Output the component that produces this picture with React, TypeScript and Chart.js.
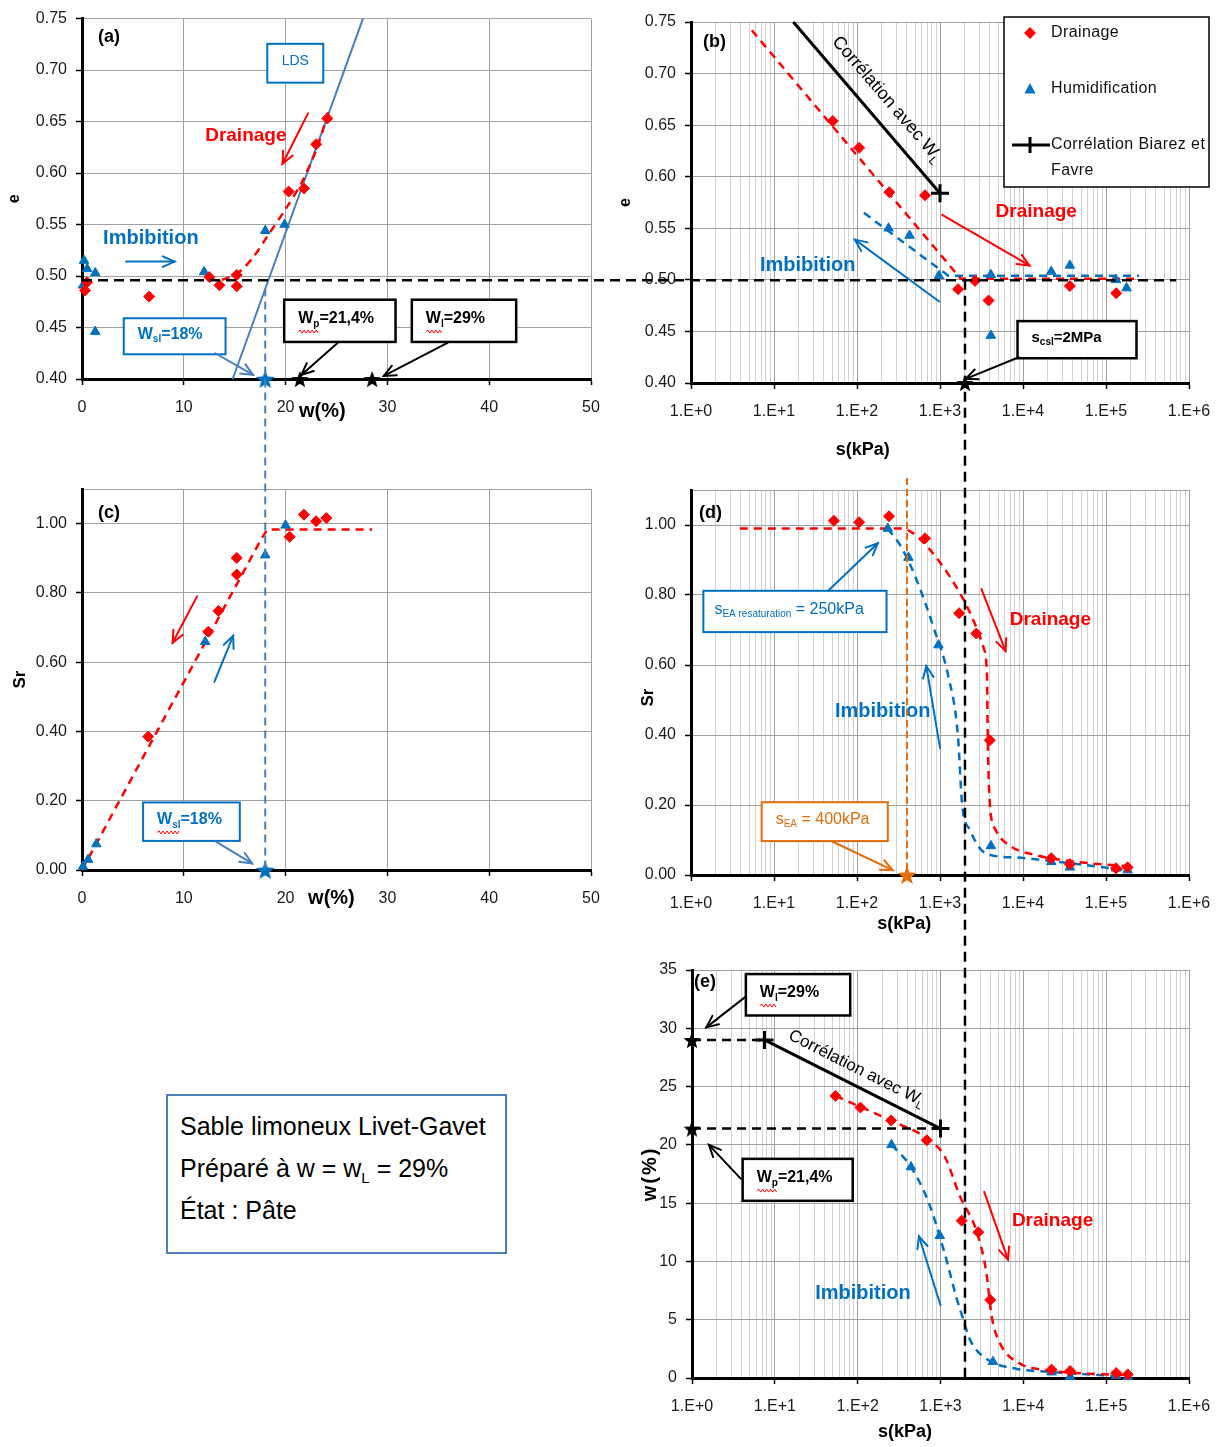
import { useEffect, useRef } from 'react';
import { Chart, registerables } from 'chart.js';
Chart.register(...registerables);

// ---------------- data ----------------
// Panel (a): e vs w
const A_DRAIN_W = [0.3, 0.5, 6.6, 12.5, 13.5, 15.2, 15.2, 20.3, 21.8, 23.0, 24.1];
const A_DRAIN_E = [0.486, 0.494, 0.480, 0.499, 0.491, 0.501, 0.490, 0.582, 0.585, 0.628, 0.653];
const A_IMB_W = [0.2, 0.5, 0.1, 1.3, 1.3, 12.0, 18.0, 19.9];
const A_IMB_E = [0.515, 0.507, 0.491, 0.503, 0.446, 0.504, 0.544, 0.550];
const A_FIT_W = [12.4, 13.5, 15.3, 16.8, 18.3, 20.0, 21.7, 23.1, 24.2];
const A_FIT_E = [0.498, 0.496, 0.503, 0.518, 0.540, 0.565, 0.593, 0.625, 0.659];
const LDS_W = [14.8, 27.6];
const LDS_E = [0.40, 0.75];
const W_SL = 18;
const W_P = 21.4;
const W_L_STAR = 28.5;
const E_AXIS = 0.40;

// Panel (b): e vs s
const B_DRAIN_S = [51, 106, 245, 660, 1650, 2640, 3850, 36700, 133000];
const B_DRAIN_E = [0.654, 0.628, 0.585, 0.582, 0.491, 0.499, 0.480, 0.494, 0.487];
const B_IMB_S = [240, 430, 970, 4100, 4100, 21900, 36700, 132000, 177000];
const B_IMB_E = [0.550, 0.543, 0.504, 0.505, 0.446, 0.508, 0.514, 0.500, 0.492];
const B_DFIT_S = [5.4, 1780, 250000];
const B_DFIT_E = [0.742, 0.501, 0.501];
const B_IFIT_S = [121, 1260, 250000];
const B_IFIT_E = [0.565, 0.504, 0.504];
const B_CORR_S = [17.1, 1000];
const B_CORR_E = [0.75, 0.584];
const S_CSL = 2000;

// Panel (c): Sr vs w
const C_DRAIN_W = [6.5, 12.4, 13.4, 15.2, 15.2, 20.4, 21.8, 23.0, 24.0];
const C_DRAIN_SR = [0.385, 0.688, 0.748, 0.853, 0.901, 0.962, 1.026, 1.007, 1.016];
const C_IMB_W = [0.1, 0.6, 1.4, 12.1, 18.0, 20.0];
const C_IMB_SR = [0.01, 0.03, 0.075, 0.659, 0.909, 0.995];
const C_FIT_W = [0, 17.6, 18.2, 28.5];
const C_FIT_SR = [0, 0.955, 0.983, 0.983];

// Panel (d): Sr vs s
const D_DRAIN_S = [52.6, 106, 243, 661, 1700, 2735, 3980, 21900, 36700, 132000, 182000];
const D_DRAIN_SR = [1.012, 1.008, 1.025, 0.962, 0.748, 0.690, 0.385, 0.048, 0.031, 0.019, 0.022];
const D_IMB_S = [235, 417, 958, 4110, 21900, 36700, 132000, 182000];
const D_IMB_SR = [0.990, 0.907, 0.657, 0.083, 0.038, 0.022, 0.019, 0.014];
const D_DFIT_S = [3.87, 353, 519, 1000, 1905, 2692, 3388, 3681, 3758, 3981, 4677, 7244, 14125, 42658, 199526];
const D_DFIT_SR = [0.99, 0.99, 0.969, 0.893, 0.788, 0.712, 0.645, 0.568, 0.396, 0.205, 0.129, 0.081, 0.057, 0.038, 0.024];
const D_IFIT_S = [234, 334, 519, 851, 1259, 1648, 1841, 2291, 3548, 8128, 21878, 177828];
const D_IFIT_SR = [0.99, 0.941, 0.845, 0.702, 0.568, 0.396, 0.205, 0.129, 0.062, 0.050, 0.040, 0.014];
const S_EA = 400;

// Panel (e): w vs s
const E_DRAIN_S = [54, 108, 254, 684, 1800, 2860, 3980, 21900, 36700, 132000, 182000];
const E_DRAIN_W = [24.2, 23.2, 22.1, 20.4, 13.5, 12.5, 6.7, 0.72, 0.6, 0.43, 0.31];
const E_IMB_S = [256, 440, 980, 4300, 21900, 36700, 132000, 182000];
const E_IMB_W = [20.0, 18.1, 12.2, 1.4, 0.5, 0.1, 0.2, 0.1];
const E_DFIT_S = [54.3, 253.5, 684, 1122, 1738, 2692, 3548, 4169, 5248, 9120, 19498, 42658, 199526];
const E_DFIT_W = [24.2, 22.07, 20.55, 19.0, 15.5, 12.7, 9.2, 5.2, 2.95, 1.23, 0.66, 0.43, 0.23];
const E_IFIT_S = [257, 440, 724, 1122, 1549, 1841, 2291, 3548, 8128, 21878, 199526];
const E_IFIT_W = [20.0, 18.1, 15.0, 10.7, 6.96, 5.24, 3.23, 1.66, 0.8, 0.52, 0.09];
const E_CORR_S = [7.5, 1000];
const E_CORR_W = [29.0, 21.4];
const E_WL_S = [1, 7.5];
const E_WL_W = [29.0, 29.0];
const E_WP_S = [1, 1000];
const E_WP_W = [21.4, 21.4];

// connector lines between panels
const H_LINE_E = 0.496;
const H_LINE_END_S = 7e5;
const V_LINE_TOP_E = 0.488;
const V_LINE_S_TOP_E = 0.50;

// ticks
const W_TICKS = [0, 10, 20, 30, 40, 50];
const E_TICKS = [0.40, 0.45, 0.50, 0.55, 0.60, 0.65, 0.70, 0.75];
const SR_TICKS = [0, 0.2, 0.4, 0.6, 0.8, 1.0, 1.1];
const WE_TICKS = [0, 5, 10, 15, 20, 25, 30, 35];
const DECADES = [1, 10, 100, 1e3, 1e4, 1e5, 1e6];
const DECADE_LABELS = ['1.E+0', '1.E+1', '1.E+2', '1.E+3', '1.E+4', '1.E+5', '1.E+6'];
const MINOR_STEPS = [2, 3, 4, 5, 6, 7, 8, 9];
const LOG_TICKS = DECADES.flatMap((d, i) => (i < DECADES.length - 1 ? [d, ...MINOR_STEPS.map((m) => m * d)] : [d]));

// ---------------- styles ----------------
const FONT = "'Liberation Sans', Arial, Helvetica, sans-serif";
const RED = '#FF0000';
const BLUE = '#0070C0';
const LBLUE = '#4A7EBB';
const ORANGE = '#E46C0A';
const GRID = '#A0A0A0';
const GRID_MINOR = '#D2D2D2';
const TICK_COLOR = '#1a1a1a';
const fnt = (size: number, bold: boolean) => `${bold ? 'bold ' : ''}${size}px ${FONT}`;

const PANELS: any = {
  a: { left: 0, top: 0, w: 614, h: 440, padTop: 17, padRight: 23, yW: 82, xH: 61 },
  b: { left: 600, top: 0, w: 625, h: 470, padTop: 22, padRight: 36, yW: 91, xH: 87 },
  c: { left: 0, top: 470, w: 614, h: 460, padTop: 19, padRight: 23, yW: 82, xH: 60 },
  d: { left: 600, top: 470, w: 625, h: 480, padTop: 20, padRight: 36, yW: 91, xH: 75 },
  e: { left: 600, top: 945, w: 625, h: 502, padTop: 25, padRight: 36, yW: 92, xH: 69 },
};

// ---------------- annotations ----------------
const W_SL_SEGS = [['W'], ['sl', true], ['=18%']];
const W_P_SEGS = [['W'], ['p', true], ['=21,4%']];
const W_L_SEGS = [['W'], ['l', true], ['=29%']];

const A_NOTES = [
  { kind: 'box', x1: 18.2, y1: 0.7255, x2: 23.7, y2: 0.6878, segs: [['LDS']], border: BLUE, color: BLUE, size: 14, bold: false, center: true, lw: 2 },
  { kind: 'text', x: 12.1, y: 0.636, segs: [['Drainage']], color: RED, size: 19, bold: true },
  { kind: 'arrow', x1: 22.2, y1: 0.658, x2: 19.7, y2: 0.609, color: RED },
  { kind: 'text', x: 2.07, y: 0.536, segs: [['Imbibition']], color: BLUE, size: 20, bold: true },
  { kind: 'arrow', x1: 4.33, y1: 0.514, x2: 9.1, y2: 0.514, color: BLUE },
  { kind: 'box', x1: 4.1, y1: 0.459, x2: 14.1, y2: 0.424, segs: W_SL_SEGS, border: BLUE, color: BLUE, size: 16, bold: true, lw: 2 },
  { kind: 'arrow', x1: 13.1, y1: 0.425, x2: 16.8, y2: 0.404, color: LBLUE },
  { kind: 'box', x1: 19.86, y1: 0.477, x2: 30.8, y2: 0.436, segs: W_P_SEGS, border: '#000', color: '#000', size: 16, bold: true, squiggle: 2 },
  { kind: 'arrow', x1: 25.1, y1: 0.435, x2: 21.55, y2: 0.404, color: '#000' },
  { kind: 'box', x1: 32.4, y1: 0.477, x2: 42.65, y2: 0.436, segs: W_L_SEGS, border: '#000', color: '#000', size: 16, bold: true, squiggle: 2 },
  { kind: 'arrow', x1: 35.9, y1: 0.435, x2: 29.65, y2: 0.403, color: '#000' },
];

const B_NOTES = [
  { kind: 'along', xs: B_CORR_S, ys: B_CORR_E, segs: [['Corrélation avec W'], ['L', true]], along: 40, perp: 21, size: 18, bold: false, color: '#000' },
  { kind: 'text', x: 4677, y: 0.566, segs: [['Drainage']], color: RED, size: 19, bold: true },
  { kind: 'arrow', x1: 1062, y1: 0.563, x2: 11940, y2: 0.514, color: RED },
  { kind: 'text', x: 6.76, y: 0.514, segs: [['Imbibition']], color: BLUE, size: 20, bold: true },
  { kind: 'arrow', x1: 977, y1: 0.479, x2: 94.2, y2: 0.539, color: BLUE },
  { kind: 'box', x1: 8590, y1: 0.460, x2: 233000, y2: 0.424, segs: [['s'], ['csl', true], ['=2MPa']], border: '#000', color: '#000', size: 15, bold: true },
  { kind: 'arrow', x1: 8900, y1: 0.425, x2: 2040, y2: 0.404, color: '#000' },
];

const C_NOTES = [
  { kind: 'arrow', x1: 11.3, y1: 0.79, x2: 8.9, y2: 0.656, color: RED },
  { kind: 'arrow', x1: 13.0, y1: 0.543, x2: 14.85, y2: 0.676, color: BLUE },
  { kind: 'box', x1: 6.0, y1: 0.195, x2: 15.5, y2: 0.084, segs: W_SL_SEGS, border: BLUE, color: BLUE, size: 16, bold: true, lw: 2, squiggle: 2 },
  { kind: 'arrow', x1: 13.15, y1: 0.082, x2: 16.7, y2: 0.019, color: LBLUE },
];

const D_NOTES = [
  { kind: 'box', x1: 1.41, y1: 0.812, x2: 227, y2: 0.694, segs: [['s'], ['EA resaturation', true], [' = 250kPa']], border: BLUE, color: BLUE, size: 16, bold: false, lw: 2, pad: 11 },
  { kind: 'arrow', x1: 45, y1: 0.812, x2: 178, y2: 0.948, color: BLUE },
  { kind: 'box', x1: 7.1, y1: 0.208, x2: 235, y2: 0.097, segs: [['s'], ['EA', true], [' = 400kPa']], border: ORANGE, color: ORANGE, size: 16, bold: false, lw: 2 },
  { kind: 'arrow', x1: 51, y1: 0.095, x2: 269, y2: 0.014, color: ORANGE },
  { kind: 'text', x: 6918, y: 0.73, segs: [['Drainage']], color: RED, size: 19, bold: true },
  { kind: 'arrow', x1: 3162, y1: 0.817, x2: 6166, y2: 0.64, color: RED },
  { kind: 'text', x: 54.3, y: 0.468, segs: [['Imbibition']], color: BLUE, size: 20, bold: true },
  { kind: 'arrow', x1: 1000, y1: 0.363, x2: 684, y2: 0.597, color: BLUE },
];

const E_NOTES = [
  { kind: 'along', xs: E_CORR_S, ys: E_CORR_W, segs: [['Corrélation avec W'], ['L', true]], along: 20, perp: 16, size: 17, bold: false, color: '#000' },
  { kind: 'box', x1: 4.47, y1: 34.65, x2: 81.3, y2: 31.1, segs: W_L_SEGS, border: '#000', color: '#000', size: 16, bold: true, squiggle: 2 },
  { kind: 'arrow', x1: 4.33, y1: 32.65, x2: 1.49, y2: 30.08, color: '#000' },
  { kind: 'box', x1: 4.09, y1: 18.8, x2: 87.1, y2: 15.2, segs: W_P_SEGS, border: '#000', color: '#000', size: 16, bold: true, squiggle: 2 },
  { kind: 'arrow', x1: 3.87, y1: 17.1, x2: 1.6, y2: 20.0, color: '#000' },
  { kind: 'text', x: 7278, y: 13.5, segs: [['Drainage']], color: RED, size: 19, bold: true },
  { kind: 'arrow', x1: 3373, y1: 15.97, x2: 6531, y2: 10.16, color: RED },
  { kind: 'text', x: 30.7, y: 7.24, segs: [['Imbibition']], color: BLUE, size: 20, bold: true },
  { kind: 'arrow', x1: 1000, y1: 6.24, x2: 549, y2: 12.16, color: BLUE },
];

const TITLES: any = {
  a: { label: '(a)', lx: 16, ly: 18, xTitle: 'w(%)', xAt: 23.6, xDy: 32, xSize: 20, yTitle: 'e', yDx: 67, yDy: 0, ySize: 16 },
  b: { label: '(b)', lx: 12, ly: 20, xTitle: 's(kPa)', xAt: 117, xDy: 67, xSize: 18, yTitle: 'e', yDx: 65, yDy: 0, ySize: 16 },
  c: { label: '(c)', lx: 16, ly: 24, xTitle: 'w(%)', xAt: 24.5, xDy: 28, xSize: 20, yTitle: 'Sr', yDx: 62, yDy: 0, ySize: 17 },
  d: { label: '(d)', lx: 8, ly: 23, xTitle: 's(kPa)', xAt: 372, xDy: 49, xSize: 18, yTitle: 'Sr', yDx: 43, yDy: 15, ySize: 17 },
  e: { label: '(e)', lx: 2, ly: 12, xTitle: 's(kPa)', xAt: 372, xDy: 54, xSize: 18, yTitle: 'w(%)', yDx: 42, yDy: 0, ySize: 20, ySpacing: '2px' },
};

// ---------------- drawing helpers ----------------
function richWidth(ctx: any, segs: any[], size: number, bold: boolean) {
  let w = 0;
  for (const [t, sub] of segs) {
    ctx.font = fnt(sub ? Math.round(size * 0.65) : size, bold);
    w += ctx.measureText(t).width;
  }
  return w;
}
function drawRich(ctx: any, segs: any[], x: number, y: number, size: number, bold: boolean, color: string) {
  ctx.save();
  ctx.fillStyle = color;
  ctx.textBaseline = 'middle';
  ctx.textAlign = 'left';
  let cx = x;
  for (const [t, sub] of segs) {
    ctx.font = fnt(sub ? Math.round(size * 0.65) : size, bold);
    ctx.fillText(t, cx, sub ? y + size * 0.32 : y);
    cx += ctx.measureText(t).width;
  }
  ctx.restore();
  return cx - x;
}
function squiggle(ctx: any, x: number, y: number, w: number) {
  ctx.save();
  ctx.strokeStyle = RED;
  ctx.lineWidth = 1;
  ctx.beginPath();
  let up = true;
  ctx.moveTo(x, y);
  for (let px = x + 2; px <= x + w; px += 2) {
    ctx.lineTo(px, up ? y - 1.5 : y + 1.5);
    up = !up;
  }
  ctx.stroke();
  ctx.restore();
}
function arrow(ctx: any, x1: number, y1: number, x2: number, y2: number, color: string, w = 2) {
  ctx.save();
  ctx.strokeStyle = color;
  ctx.lineWidth = w;
  ctx.setLineDash([]);
  ctx.lineCap = 'round';
  ctx.beginPath();
  ctx.moveTo(x1, y1);
  ctx.lineTo(x2, y2);
  ctx.stroke();
  const a = Math.atan2(y2 - y1, x2 - x1);
  const L = 13;
  const sp = 0.42;
  ctx.beginPath();
  ctx.moveTo(x2 - L * Math.cos(a - sp), y2 - L * Math.sin(a - sp));
  ctx.lineTo(x2, y2);
  ctx.lineTo(x2 - L * Math.cos(a + sp), y2 - L * Math.sin(a + sp));
  ctx.stroke();
  ctx.restore();
}

function drawNotes(chart: any, notes: any[]) {
  const ctx = chart.ctx;
  const X = (v: number) => chart.scales.x.getPixelForValue(v);
  const Y = (v: number) => chart.scales.y.getPixelForValue(v);
  for (const n of notes) {
    if (n.kind === 'arrow') {
      arrow(ctx, X(n.x1), Y(n.y1), X(n.x2), Y(n.y2), n.color);
    } else if (n.kind === 'text') {
      drawRich(ctx, n.segs, X(n.x), Y(n.y), n.size, n.bold, n.color);
    } else if (n.kind === 'box') {
      const x1 = X(n.x1), y1 = Y(n.y1), x2 = X(n.x2), y2 = Y(n.y2);
      ctx.save();
      ctx.fillStyle = '#fff';
      ctx.fillRect(x1, y1, x2 - x1, y2 - y1);
      ctx.strokeStyle = n.border;
      ctx.lineWidth = n.lw ?? 2.5;
      ctx.setLineDash([]);
      ctx.strokeRect(x1, y1, x2 - x1, y2 - y1);
      ctx.restore();
      const tw = richWidth(ctx, n.segs, n.size, n.bold);
      const tx = n.center ? (x1 + x2 - tw) / 2 : x1 + (n.pad ?? 14);
      const ty = (y1 + y2) / 2 - 2;
      drawRich(ctx, n.segs, tx, ty, n.size, n.bold, n.color);
      if (n.squiggle) {
        const sw = richWidth(ctx, n.segs.slice(0, n.squiggle), n.size, n.bold);
        squiggle(ctx, tx, ty + n.size * 0.8, sw);
      }
    } else if (n.kind === 'along') {
      const p0x = X(n.xs[0]), p0y = Y(n.ys[0]), p1x = X(n.xs[1]), p1y = Y(n.ys[1]);
      const L = Math.hypot(p1x - p0x, p1y - p0y);
      const ux = (p1x - p0x) / L, uy = (p1y - p0y) / L;
      const nx = uy, ny = -ux;
      const sx = p0x + ux * n.along + nx * n.perp;
      const sy = p0y + uy * n.along + ny * n.perp;
      ctx.save();
      ctx.translate(sx, sy);
      ctx.rotate(Math.atan2(uy, ux));
      drawRich(ctx, n.segs, 0, 0, n.size, n.bold, n.color);
      ctx.restore();
    }
  }
}

function drawTitles(chart: any, t: any) {
  const ctx = chart.ctx;
  const ca = chart.chartArea;
  ctx.save();
  ctx.fillStyle = '#000';
  ctx.textBaseline = 'middle';
  ctx.textAlign = 'left';
  ctx.font = fnt(18, true);
  ctx.fillText(t.label, ca.left + t.lx, ca.top + t.ly);
  ctx.textAlign = 'center';
  ctx.font = fnt(t.xSize, true);
  ctx.fillText(t.xTitle, chart.scales.x.getPixelForValue(t.xAt), ca.bottom + t.xDy);
  ctx.translate(ca.left - t.yDx, (ca.top + ca.bottom) / 2 + t.yDy);
  ctx.rotate(-Math.PI / 2);
  ctx.font = fnt(t.ySize, true);
  if (t.ySpacing) (ctx as any).letterSpacing = t.ySpacing;
  ctx.fillText(t.yTitle, 0, 0);
  (ctx as any).letterSpacing = '0px';
  ctx.restore();
}

function drawLegendB(chart: any) {
  const ctx = chart.ctx;
  const ca = chart.chartArea;
  const x0 = ca.right - 185, y0 = ca.top - 5, w = 205, h = 170;
  ctx.save();
  ctx.fillStyle = '#fff';
  ctx.fillRect(x0, y0, w, h);
  ctx.strokeStyle = '#000';
  ctx.lineWidth = 1.5;
  ctx.strokeRect(x0, y0, w, h);
  const mx = x0 + 26;
  ctx.fillStyle = RED;
  ctx.beginPath();
  ctx.moveTo(mx, y0 + 16 - 6); ctx.lineTo(mx + 6, y0 + 16); ctx.lineTo(mx, y0 + 16 + 6); ctx.lineTo(mx - 6, y0 + 16);
  ctx.closePath(); ctx.fill();
  ctx.fillStyle = BLUE;
  ctx.beginPath();
  ctx.moveTo(mx, y0 + 72 - 6); ctx.lineTo(mx + 5.5, y0 + 72 + 4.5); ctx.lineTo(mx - 5.5, y0 + 72 + 4.5);
  ctx.closePath(); ctx.fill();
  ctx.strokeStyle = '#000';
  ctx.lineWidth = 3;
  ctx.beginPath();
  ctx.moveTo(x0 + 8, y0 + 128); ctx.lineTo(x0 + 46, y0 + 128);
  ctx.moveTo(mx, y0 + 128 - 8); ctx.lineTo(mx, y0 + 128 + 8);
  ctx.stroke();
  ctx.fillStyle = '#111';
  ctx.font = fnt(16, false);
  ctx.textBaseline = 'middle';
  ctx.textAlign = 'left';
  (ctx as any).letterSpacing = '0.4px';
  ctx.fillText('Drainage', x0 + 47, y0 + 16);
  ctx.fillText('Humidification', x0 + 47, y0 + 72);
  ctx.fillText('Corrélation Biarez et', x0 + 47, y0 + 128);
  ctx.fillText('Favre', x0 + 47, y0 + 154);
  (ctx as any).letterSpacing = '0px';
  ctx.restore();
}

function starImg(color: string, r: number) {
  const c = document.createElement('canvas');
  const s = Math.ceil(r * 2 + 2);
  c.width = s;
  c.height = s;
  const g = c.getContext('2d')!;
  g.fillStyle = color;
  g.beginPath();
  for (let i = 0; i < 10; i++) {
    const rad = i % 2 === 0 ? r : r * 0.42;
    const a = -Math.PI / 2 + (i * Math.PI) / 5;
    const x = s / 2 + rad * Math.cos(a);
    const y = s / 2 + 1 + rad * Math.sin(a);
    if (i === 0) g.moveTo(x, y);
    else g.lineTo(x, y);
  }
  g.closePath();
  g.fill();
  return c;
}

// ---------------- chart config helpers ----------------
const pts = (xs: number[], ys: number[]) => xs.map((x, i) => ({ x, y: ys[i] }));
const markers = (xs: number[], ys: number[], style: any, color: string, r: number) => ({
  data: pts(xs, ys), pointStyle: style, backgroundColor: color, borderColor: color, borderWidth: 1,
  pointRadius: r, pointHoverRadius: r, showLine: false, clip: false,
});
const curve = (xs: number[], ys: number[], color: string, width: number, dash: number[], extra: any = {}) => ({
  data: pts(xs, ys), showLine: true, pointRadius: 0, pointHoverRadius: 0, borderColor: color, backgroundColor: color,
  borderWidth: width, borderDash: dash, fill: false, clip: false, ...extra,
});
const imgPoints = (xs: number[], ys: number[], img: any) => ({
  data: pts(xs, ys), pointStyle: img, pointRadius: 10, pointHoverRadius: 10, showLine: false, clip: false,
});
const crossPoints = (xs: number[], ys: number[]) => ({
  data: pts(xs, ys), pointStyle: 'cross', pointRadius: 9, pointHoverRadius: 9, borderColor: '#000', borderWidth: 3, showLine: false, clip: false,
});

const tickFont = { family: FONT, size: 16 };
const isDecade = (v: number) => DECADES.some((d) => Math.abs(v - d) / d < 1e-9);

function linX(ticks: number[], fmt: (v: number) => string, xH: number) {
  return {
    type: 'linear', min: ticks[0], max: ticks[ticks.length - 1],
    afterBuildTicks: (s: any) => { s.ticks = ticks.map((v) => ({ value: v })); },
    afterFit: (s: any) => { s.height = xH; },
    ticks: { callback: (v: any) => fmt(Number(v)), color: TICK_COLOR, font: tickFont, padding: 13, maxRotation: 0, autoSkip: false },
    grid: { color: GRID, lineWidth: 1, tickLength: 6, tickColor: '#000', tickWidth: 1.5 },
    border: { color: '#000', width: 3 },
  };
}
function logX(xH: number) {
  return {
    type: 'logarithmic', min: 1, max: 1e6,
    afterBuildTicks: (s: any) => { s.ticks = LOG_TICKS.map((v) => ({ value: v })); },
    afterFit: (s: any) => { s.height = xH; },
    ticks: {
      callback: (v: any) => { const i = DECADES.findIndex((d) => Math.abs(Number(v) - d) / d < 1e-9); return i >= 0 ? DECADE_LABELS[i] : ''; },
      color: TICK_COLOR, font: tickFont, padding: 13, maxRotation: 0, minRotation: 0, autoSkip: false,
    },
    grid: {
      color: (c: any) => (isDecade(c.tick.value) ? GRID : GRID_MINOR), lineWidth: 1, tickLength: 6,
      tickColor: (c: any) => (isDecade(c.tick.value) ? '#000' : 'rgba(0,0,0,0)'), tickWidth: 1.5,
    },
    border: { color: '#000', width: 3 },
  };
}
function linY(ticks: number[], fmt: (v: number) => string, yW: number, hideAbove?: number) {
  return {
    type: 'linear', min: ticks[0], max: ticks[ticks.length - 1],
    afterBuildTicks: (s: any) => { s.ticks = ticks.map((v) => ({ value: v })); },
    afterFit: (s: any) => { s.width = yW; },
    ticks: {
      callback: (v: any) => (hideAbove !== undefined && Number(v) > hideAbove ? '' : fmt(Number(v))),
      color: TICK_COLOR, font: tickFont, padding: 9, autoSkip: false,
    },
    grid: {
      color: GRID, lineWidth: 1, tickLength: 6, tickWidth: 1.5,
      tickColor: (c: any) => (hideAbove !== undefined && c.tick && c.tick.value > hideAbove ? 'rgba(0,0,0,0)' : '#000'),
    },
    border: { color: '#000', width: 3 },
  };
}

function makeChart(canvas: HTMLCanvasElement, key: string, datasets: any[], x: any, y: any, notes: any[], extra?: (c: any) => void) {
  const p = PANELS[key];
  return new Chart(canvas, {
    type: 'scatter',
    data: { datasets },
    options: {
      animation: false, responsive: false, maintainAspectRatio: false,
      layout: { padding: { left: 0, top: p.padTop, right: p.padRight, bottom: 0 } },
      plugins: { legend: { display: false }, tooltip: { enabled: false } },
      events: [],
      scales: { x, y },
    } as any,
    plugins: [{
      id: 'extras' + key,
      afterDraw: (chart: any) => {
        drawNotes(chart, notes);
        drawTitles(chart, TITLES[key]);
        if (extra) extra(chart);
      },
    }],
  });
}

const f2 = (v: number) => v.toFixed(2);
const f0 = (v: number) => String(Math.round(v));

export default function App() {
  const refs: any = { a: useRef(null), b: useRef(null), c: useRef(null), d: useRef(null), e: useRef(null) };
  const overlay = useRef<HTMLCanvasElement>(null);

  useEffect(() => {
    const blueStar = starImg(BLUE, 10);
    const blackStar = starImg('#000', 9);
    const orangeStar = starImg(ORANGE, 10);
    const charts: any = {};

    charts.a = makeChart(refs.a.current, 'a', [
      markers(A_DRAIN_W, A_DRAIN_E, 'rectRot', RED, 5.5),
      markers(A_IMB_W, A_IMB_E, 'triangle', BLUE, 5.5),
      imgPoints([W_SL], [E_AXIS], blueStar),
      imgPoints([W_P, W_L_STAR], [E_AXIS, E_AXIS], blackStar),
      curve(A_FIT_W, A_FIT_E, RED, 2.5, [8, 6], { tension: 0.3 }),
      curve(LDS_W, LDS_E, LBLUE, 2, []),
    ], linX(W_TICKS, f0, PANELS.a.xH), linY(E_TICKS, f2, PANELS.a.yW), A_NOTES);

    charts.b = makeChart(refs.b.current, 'b', [
      markers(B_DRAIN_S, B_DRAIN_E, 'rectRot', RED, 5.5),
      markers(B_IMB_S, B_IMB_E, 'triangle', BLUE, 5.5),
      imgPoints([S_CSL], [E_AXIS], blackStar),
      crossPoints([B_CORR_S[1]], [B_CORR_E[1]]),
      curve(B_CORR_S, B_CORR_E, '#000', 3, []),
      curve(B_DFIT_S, B_DFIT_E, RED, 2.5, [8, 6]),
      curve(B_IFIT_S, B_IFIT_E, BLUE, 2.5, [8, 6]),
    ], logX(PANELS.b.xH), linY(E_TICKS, f2, PANELS.b.yW), B_NOTES, drawLegendB);

    charts.c = makeChart(refs.c.current, 'c', [
      markers(C_DRAIN_W, C_DRAIN_SR, 'rectRot', RED, 5.5),
      markers(C_IMB_W, C_IMB_SR, 'triangle', BLUE, 5.5),
      imgPoints([W_SL], [0], blueStar),
      curve(C_FIT_W, C_FIT_SR, RED, 2.5, [8, 6]),
    ], linX(W_TICKS, f0, PANELS.c.xH), linY(SR_TICKS, f2, PANELS.c.yW, 1.05), C_NOTES);

    charts.d = makeChart(refs.d.current, 'd', [
      markers(D_DRAIN_S, D_DRAIN_SR, 'rectRot', RED, 5.5),
      markers(D_IMB_S, D_IMB_SR, 'triangle', BLUE, 5.5),
      imgPoints([S_EA], [0], orangeStar),
      curve(D_DFIT_S, D_DFIT_SR, RED, 2.5, [8, 6], { cubicInterpolationMode: 'monotone' }),
      curve(D_IFIT_S, D_IFIT_SR, BLUE, 2.5, [8, 6], { cubicInterpolationMode: 'monotone' }),
    ], logX(PANELS.d.xH), linY(SR_TICKS, f2, PANELS.d.yW, 1.05), D_NOTES);

    charts.e = makeChart(refs.e.current, 'e', [
      markers(E_DRAIN_S, E_DRAIN_W, 'rectRot', RED, 5.5),
      markers(E_IMB_S, E_IMB_W, 'triangle', BLUE, 5.5),
      imgPoints([E_WL_S[0], E_WP_S[0]], [E_WL_W[0], E_WP_W[0]], blackStar),
      crossPoints(E_CORR_S, E_CORR_W),
      curve(E_CORR_S, E_CORR_W, '#000', 3, []),
      curve(E_WL_S, E_WL_W, '#000', 2.5, [9, 6]),
      curve(E_WP_S, E_WP_W, '#000', 2.5, [9, 6]),
      curve(E_DFIT_S, E_DFIT_W, RED, 2.5, [8, 6], { cubicInterpolationMode: 'monotone' }),
      curve(E_IFIT_S, E_IFIT_W, BLUE, 2.5, [8, 6], { cubicInterpolationMode: 'monotone' }),
    ], logX(PANELS.e.xH), linY(WE_TICKS, f0, PANELS.e.yW), E_NOTES);

    // overlay connectors
    const ov = overlay.current!;
    const g = ov.getContext('2d')!;
    g.clearRect(0, 0, ov.width, ov.height);
    const PX = (k: string, v: number) => PANELS[k].left + charts[k].scales.x.getPixelForValue(v);
    const PY = (k: string, v: number) => PANELS[k].top + charts[k].scales.y.getPixelForValue(v);
    const dashLine = (x1: number, y1: number, x2: number, y2: number, color: string, w: number, dash: number[]) => {
      g.save();
      g.strokeStyle = color; g.lineWidth = w; g.setLineDash(dash);
      g.beginPath(); g.moveTo(x1, y1); g.lineTo(x2, y2); g.stroke();
      g.restore();
    };
    const hy = PY('a', H_LINE_E);
    dashLine(PX('a', 0), hy, PX('b', H_LINE_END_S), hy, '#000', 2.5, [10, 6]);
    const vx = PX('a', W_SL);
    dashLine(vx, PY('a', V_LINE_TOP_E), vx, PY('c', 0), LBLUE, 2, [8, 5]);
    const sx = PX('b', S_CSL);
    dashLine(sx, PY('b', V_LINE_S_TOP_E), sx, PY('e', 0), '#000', 2.5, [10, 6]);
    const ox = PX('d', S_EA);
    dashLine(ox, PY('d', SR_TICKS[SR_TICKS.length - 1]) - 12, ox, PY('d', 0), ORANGE, 2, [7, 4]);

    return () => { Object.values(charts).forEach((c: any) => c.destroy()); };
  }, []);

  const cv = (k: string) => {
    const p = PANELS[k];
    return <canvas ref={refs[k]} width={p.w} height={p.h} style={{ position: 'absolute', left: p.left, top: p.top, width: p.w, height: p.h }} />;
  };

  return (
    <div style={{ position: 'absolute', left: 0, top: 0, width: 1221, height: 1447, background: '#fff', overflow: 'hidden' }}>
      {cv('a')}{cv('b')}{cv('c')}{cv('d')}{cv('e')}
      <div style={{
        position: 'absolute', left: 166, top: 1094, width: 341, height: 160, boxSizing: 'border-box',
        border: '2px solid ' + LBLUE, fontFamily: FONT, fontSize: 25, lineHeight: '42px', padding: '9px 0 0 12px', color: '#000',
      }}>
        Sable limoneux Livet-Gavet<br />
        Préparé à w = w<sub style={{ fontSize: '60%', lineHeight: 0 }}>L</sub> = 29%<br />
        État : Pâte
      </div>
      <canvas ref={overlay} width={1221} height={1447} style={{ position: 'absolute', left: 0, top: 0, width: 1221, height: 1447, pointerEvents: 'none' }} />
    </div>
  );
}
